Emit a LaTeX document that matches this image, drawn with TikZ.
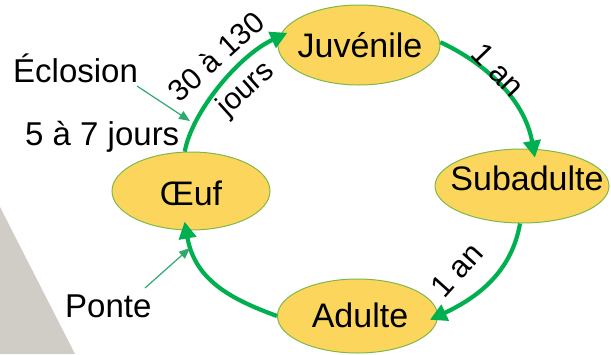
\documentclass[tikz,border=0pt]{standalone}
\usepackage{fontspec}
\setmainfont{Liberation Sans}
\usetikzlibrary{shapes.geometric,arrows.meta}
\definecolor{eggfill}{RGB}{252,214,92}
\definecolor{eggline}{RGB}{125,185,70}
\definecolor{lifegreen}{RGB}{0,176,80}
\definecolor{thingreen}{RGB}{45,170,110}
\definecolor{bggray}{RGB}{208,205,198}
\tikzset{
  stage/.style={ellipse, draw=eggline, line width=1pt, fill=eggfill, inner sep=0pt},
  stagetext/.style={font=\fontsize{34}{40}\selectfont, inner sep=0pt, anchor=base},
  lifearrow/.style={draw=lifegreen, line width=4.2pt, -{Triangle[length=17pt,width=17pt]}, shorten >=-9pt},
  pointer/.style={draw=thingreen, line width=1.2pt, -{Triangle[length=11pt,width=9pt]}},
  lbl/.style={font=\fontsize{33}{40}\selectfont, inner sep=0pt, anchor=base west},
  arclbl/.style={font=\fontsize{30}{42}\selectfont, inner sep=0pt, align=center},
}
\begin{document}
\begin{tikzpicture}[x=1pt,y=-1pt]
\useasboundingbox (0,0) rectangle (611,354);
\fill[bggray] (0,207) -- (75,354) -- (0,354) -- cycle;

\node[stage, minimum width=158pt, minimum height=78pt] (oeuf) at (191,191) {};
\node[stage, minimum width=162pt, minimum height=80pt] (juv) at (359,45) {};
\node[stage, minimum width=174pt, minimum height=74pt] (sub) at (522,186) {};
\node[stage, minimum width=160pt, minimum height=74pt] (adu) at (357.5,316) {};

\node[stagetext] (oeuftxt) at (191,205) {Œuf};
\node[stagetext] (juvtxt) at (360,57) {Juvénile};
\node[stagetext] (subtxt) at (527,190) {Subadulte};
\node[stagetext] (adutxt) at (360,327) {Adulte};

\draw[lifearrow] (oeuf.99) .. controls +(80:40pt) and +(205:45pt) .. (juv.174);
\draw[lifearrow] (juv.2) .. controls +(-25:50pt) and +(100:50pt) .. (sub.73);
\draw[lifearrow] (sub.267) .. controls +(-100:45pt) and +(25:50pt) .. (adu.east);
\draw[lifearrow] (adu.west) .. controls +(160:50pt) and +(-80:50pt) .. (oeuf.263);

\node[arclbl, rotate=42] (l1) at (232,74) {30 à 130\\jours};
\node[arclbl, font=\fontsize{31}{40}\selectfont, rotate=-46] (l2) at (498,70) {1 an};
\node[arclbl, font=\fontsize{31}{40}\selectfont, rotate=48] (l3) at (457,270) {1 an};

\node[lbl] (ecl) at (13,82) {Éclosion};
\node[lbl] (jours) at (25,145) {5 à 7 jours};
\node[lbl] (ponte) at (65,317) {Ponte};

\coordinate (eclstart) at (137,86);
\coordinate (eclend) at (190,121);
\coordinate (pontestart) at (145,288);
\coordinate (ponteend) at (190,248);
\draw[pointer] (eclstart) -- (eclend);
\draw[pointer] (pontestart) -- (ponteend);
\end{tikzpicture}
\end{document}
